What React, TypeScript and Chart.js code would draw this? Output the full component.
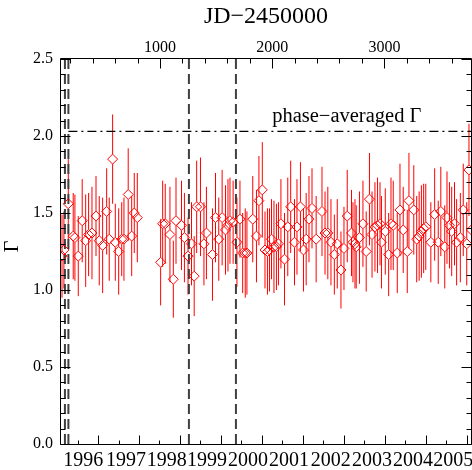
import React, { useEffect, useRef } from 'react';
import { Chart, registerables } from 'chart.js';

Chart.register(...registerables);

// ---- data (JD-2450000, photon index Gamma, 1-sigma error) ----
const jd = [
  127, 144, 183, 227, 242, 272, 307, 338, 364, 394,
  430, 459, 489, 525, 548, 578, 602, 632, 659, 679,
  717, 748, 771, 798, 1006, 1024, 1047, 1089, 1119, 1143,
  1192, 1218, 1250, 1281, 1305, 1327, 1361, 1392, 1414, 1468,
  1495, 1524, 1554, 1584, 1606, 1624, 1652, 1686, 1713, 1737,
  1760, 1775, 1827, 1860, 1882, 1912, 1936, 1958, 1976, 1994,
  2016, 2038, 2056, 2078, 2110, 2139, 2165, 2199, 2221, 2252,
  2279, 2303, 2328, 2355, 2392, 2444, 2471, 2496, 2524, 2554,
  2580, 2613, 2640, 2669, 2707, 2720, 2738, 2749, 2778, 2809,
  2838, 2867, 2890, 2916, 2939, 2961, 2974, 3008, 3038, 3059,
  3079, 3115, 3139, 3168, 3204, 3219, 3262, 3288, 3310, 3330,
  3350, 3369, 3414, 3448, 3480, 3503, 3538, 3558, 3580, 3600,
  3625, 3644, 3677, 3703, 3734, 3754, 3776,
];
const gamma = [
  1.22, 1.26, 1.56, 1.35, 1.34, 1.22, 1.45, 1.32, 1.36, 1.37,
  1.48, 1.32, 1.29, 1.51, 1.33, 1.85, 1.31, 1.25, 1.33, 1.33,
  1.62, 1.35, 1.50, 1.47, 1.18, 1.43, 1.43, 1.36, 1.07, 1.45,
  1.42, 1.34, 1.22, 1.30, 1.09, 1.54, 1.54, 1.30, 1.37, 1.23,
  1.47, 1.33, 1.47, 1.39, 1.42, 1.45, 1.44, 1.31, 1.46, 1.24,
  1.24, 1.24, 1.46, 1.35, 1.58, 1.65, 1.26, 1.25, 1.26, 1.33,
  1.28, 1.28, 1.30, 1.43, 1.20, 1.41, 1.54, 1.31, 1.41, 1.54,
  1.26, 1.33, 1.46, 1.53, 1.33, 1.51, 1.37, 1.37, 1.31, 1.23,
  1.30, 1.13, 1.27, 1.48, 1.37, 1.31, 1.30, 1.28, 1.34, 1.43,
  1.25, 1.59, 1.36, 1.41, 1.42, 1.43, 1.31, 1.38, 1.23, 1.43,
  1.42, 1.24, 1.52, 1.39, 1.25, 1.58, 1.52, 1.33, 1.35, 1.38,
  1.40, 1.41, 1.31, 1.49, 1.31, 1.51, 1.28, 1.47, 1.42, 1.38,
  1.43, 1.31, 1.34, 1.52, 1.30, 1.78, 1.39,
];
const gammaErr = [
  0.27, 0.25, 0.29, 0.28, 0.28, 0.26, 0.27, 0.30, 0.27, 0.30,
  0.26, 0.29, 0.31, 0.28, 0.27, 0.29, 0.25, 0.28, 0.24, 0.27,
  0.30, 0.26, 0.26, 0.29, 0.28, 0.28, 0.26, 0.31, 0.25, 0.28,
  0.29, 0.29, 0.25, 0.27, 0.26, 0.30, 0.32, 0.27, 0.30, 0.30,
  0.29, 0.27, 0.31, 0.29, 0.30, 0.28, 0.27, 0.29, 0.25, 0.26,
  0.29, 0.27, 0.28, 0.30, 0.29, 0.31, 0.25, 0.28, 0.27, 0.26,
  0.30, 0.28, 0.27, 0.29, 0.30, 0.32, 0.30, 0.28, 0.31, 0.29,
  0.27, 0.30, 0.28, 0.26, 0.28, 0.29, 0.27, 0.30, 0.28, 0.26,
  0.29, 0.25, 0.27, 0.30, 0.28, 0.26, 0.29, 0.27, 0.30, 0.28,
  0.26, 0.30, 0.28, 0.29, 0.31, 0.27, 0.30, 0.28, 0.27, 0.30,
  0.29, 0.26, 0.30, 0.28, 0.27, 0.31, 0.29, 0.28, 0.29, 0.30,
  0.29, 0.28, 0.26, 0.30, 0.27, 0.29, 0.27, 0.30, 0.28, 0.29,
  0.27, 0.28, 0.29, 0.30, 0.27, 0.30, 0.28,
];

// ---- axes / reference lines ----
const xMin = 118;
const xMax = 3772;
const yMin = 0;
const yMax = 2.5;
const topTickValues = [1000, 2000, 3000];
const yearLabels = ['1996', '1997', '1998', '1999', '2000', '2001', '2002', '2003', '2004', '2005'];
const yearLabelJD = [316, 697, 1060, 1419, 1784, 2150, 2522, 2889, 3254, 3614];
const yearStartJD = [449.5, 814.5, 1179.5, 1544.5, 1910.5, 2275.5, 2640.5, 3005.5, 3371.5, 3736.5];
const midYearJD = [265.5, 630.5, 995.5, 1360.5, 1726.5, 2091.5, 2456.5, 2821.5, 3187.5, 3552.5];
const dashedJD = [153, 184, 1258, 1677];
const phaseAvgGamma = 2.03;
const phaseAvgStartJD = 184;
const annotText = 'phase\u2212averaged \u0393';
const annotJD = 2000;
const annotGamma = 2.088;

const SERIF = "'Liberation Serif', 'Times New Roman', serif";
const RED = '#ff0000';
const MARK_R = 5;

const overlay = {
  id: 'overlay',
  beforeDatasetsDraw(chart: any) {
    const { ctx, chartArea: a, scales } = chart;
    const xs = scales.x;
    const ys = scales.y;
    ctx.save();
    // error bars (interrupted inside the open diamonds)
    ctx.strokeStyle = RED;
    ctx.lineWidth = 1;
    for (let i = 0; i < jd.length; i++) {
      const px = xs.getPixelForValue(jd[i]);
      const py = ys.getPixelForValue(gamma[i]);
      const top = ys.getPixelForValue(gamma[i] + gammaErr[i]);
      const bot = ys.getPixelForValue(gamma[i] - gammaErr[i]);
      ctx.beginPath();
      ctx.moveTo(px, top);
      ctx.lineTo(px, py - MARK_R);
      ctx.moveTo(px, py + MARK_R);
      ctx.lineTo(px, bot);
      ctx.stroke();
    }
    // vertical dashed lines
    ctx.beginPath();
    ctx.rect(a.left, a.top, a.right - a.left, a.bottom - a.top);
    ctx.clip();
    ctx.strokeStyle = '#404040';
    ctx.lineWidth = 2;
    ctx.setLineDash([10, 5]);
    for (const v of dashedJD) {
      const px = xs.getPixelForValue(v);
      ctx.beginPath();
      ctx.moveTo(px, a.top);
      ctx.lineTo(px, a.bottom);
      ctx.stroke();
    }
    // phase-averaged line (dash-dot)
    ctx.strokeStyle = '#000';
    ctx.lineWidth = 1.2;
    ctx.setLineDash([9, 4, 2, 4]);
    const hy = ys.getPixelForValue(phaseAvgGamma);
    ctx.beginPath();
    ctx.moveTo(xs.getPixelForValue(phaseAvgStartJD), hy);
    ctx.lineTo(a.right, hy);
    ctx.stroke();
    ctx.restore();
  },
  afterDatasetsDraw(chart: any) {
    const { ctx, chartArea: a, scales } = chart;
    const xs = scales.x;
    const ys = scales.y;
    ctx.save();
    ctx.strokeStyle = '#000';
    ctx.lineWidth = 1;
    ctx.setLineDash([]);
    const L = a.left - 0.5;
    const R = a.right + 0.5;
    const T = a.top - 0.5;
    const B = a.bottom + 0.5;
    ctx.beginPath();
    ctx.moveTo(L, T); ctx.lineTo(R, T); ctx.lineTo(R, B); ctx.lineTo(L, B); ctx.closePath();
    // y ticks (left & right)
    for (let k = 0; k <= 25; k++) {
      const v = k / 10;
      const py = Math.round(ys.getPixelForValue(v)) + 0.5;
      const len = k % 5 === 0 ? 10 : 5;
      ctx.moveTo(L, py); ctx.lineTo(L + len, py);
      ctx.moveTo(R, py); ctx.lineTo(R - len, py);
    }
    // top ticks every 200
    for (let v = 200; v < xMax; v += 200) {
      const px = Math.round(xs.getPixelForValue(v)) + 0.5;
      const len = v % 1000 === 0 ? 10 : 5;
      ctx.moveTo(px, T); ctx.lineTo(px, T + len);
    }
    // bottom ticks: years (major) and half years (minor)
    for (const v of yearStartJD) {
      if (v < xMin || v > xMax) continue;
      const px = Math.round(xs.getPixelForValue(v)) + 0.5;
      ctx.moveTo(px, B); ctx.lineTo(px, B - 9);
    }
    for (const v of midYearJD) {
      if (v < xMin || v > xMax) continue;
      const px = Math.round(xs.getPixelForValue(v)) + 0.5;
      ctx.moveTo(px, B); ctx.lineTo(px, B - 4);
    }
    ctx.stroke();
    // annotation
    ctx.fillStyle = '#000';
    ctx.font = `20.5px ${SERIF}`;
    ctx.textAlign = 'left';
    ctx.textBaseline = 'alphabetic';
    ctx.fillText(annotText, xs.getPixelForValue(annotJD), ys.getPixelForValue(annotGamma));
    ctx.restore();
  },
};

const noPad = (s: any) => {
  s.paddingLeft = 0;
  s.paddingRight = 0;
  s.paddingTop = 0;
  s.paddingBottom = 0;
};

export default function App() {
  const ref = useRef<HTMLCanvasElement | null>(null);
  useEffect(() => {
    if (!ref.current) return;
    const points = jd.map((x, i) => ({ x, y: gamma[i] }));
    const chart = new Chart(ref.current, {
      type: 'scatter',
      data: {
        datasets: [
          {
            data: points,
            xAxisID: 'x',
            yAxisID: 'y',
            pointStyle: 'rectRot',
            pointRadius: MARK_R,
            pointBorderColor: RED,
            pointBackgroundColor: 'rgba(0,0,0,0)',
            pointBorderWidth: 1,
            showLine: false,
          },
        ],
      },
      options: {
        responsive: false,
        animation: false,
        layout: { autoPadding: false, padding: { left: 0, right: 1, top: 0, bottom: 0 } },
        plugins: { legend: { display: false }, tooltip: { enabled: false }, title: { display: false } },
        scales: {
          x: {
            type: 'linear',
            position: 'bottom',
            min: xMin,
            max: xMax,
            grid: { display: false, drawTicks: false },
            border: { display: false },
            ticks: {
              autoSkip: false,
              maxRotation: 0,
              minRotation: 0,
              padding: 5,
              color: '#000',
              font: { family: SERIF, size: 20 },
              callback: (_v: any, i: number) => yearLabels[i],
            },
            afterBuildTicks: (s: any) => {
              s.ticks = yearLabelJD.map((v) => ({ value: v }));
            },
            afterFit: (s: any) => {
              s.height = 26;
              noPad(s);
            },
          },
          xTop: {
            type: 'linear',
            position: 'top',
            axis: 'x',
            min: xMin,
            max: xMax,
            grid: { display: false, drawTicks: false },
            border: { display: false },
            title: {
              display: true,
              text: 'JD\u22122450000',
              color: '#000',
              font: { family: SERIF, size: 24 },
              padding: { top: 2, bottom: 0 },
            },
            ticks: {
              autoSkip: false,
              maxRotation: 0,
              minRotation: 0,
              padding: 2,
              color: '#000',
              font: { family: SERIF, size: 16 },
              callback: (v: any) => String(v),
            },
            afterBuildTicks: (s: any) => {
              s.ticks = topTickValues.map((v) => ({ value: v }));
            },
            afterFit: (s: any) => {
              s.height = 59;
              noPad(s);
            },
          },
          y: {
            type: 'linear',
            position: 'left',
            min: yMin,
            max: yMax,
            grid: { display: false, drawTicks: false },
            border: { display: false },
            title: {
              display: true,
              text: '\u2002\u0393',
              color: '#000',
              font: { family: SERIF, size: 20 },
              padding: { top: 1, bottom: 0 },
            },
            ticks: {
              stepSize: 0.5,
              padding: 8,
              color: '#000',
              font: { family: SERIF, size: 16 },
              callback: (v: any) => Number(v).toFixed(1),
            },
            afterFit: (s: any) => {
              s.width = 61;
              noPad(s);
            },
          },
        },
      },
      plugins: [overlay],
    });
    return () => chart.destroy();
  }, []);
  return (
    <div style={{ position: 'absolute', left: 0, top: 0, width: 472, height: 470, background: '#fff' }}>
      <canvas ref={ref} width={472} height={470} style={{ display: 'block' }} />
    </div>
  );
}
